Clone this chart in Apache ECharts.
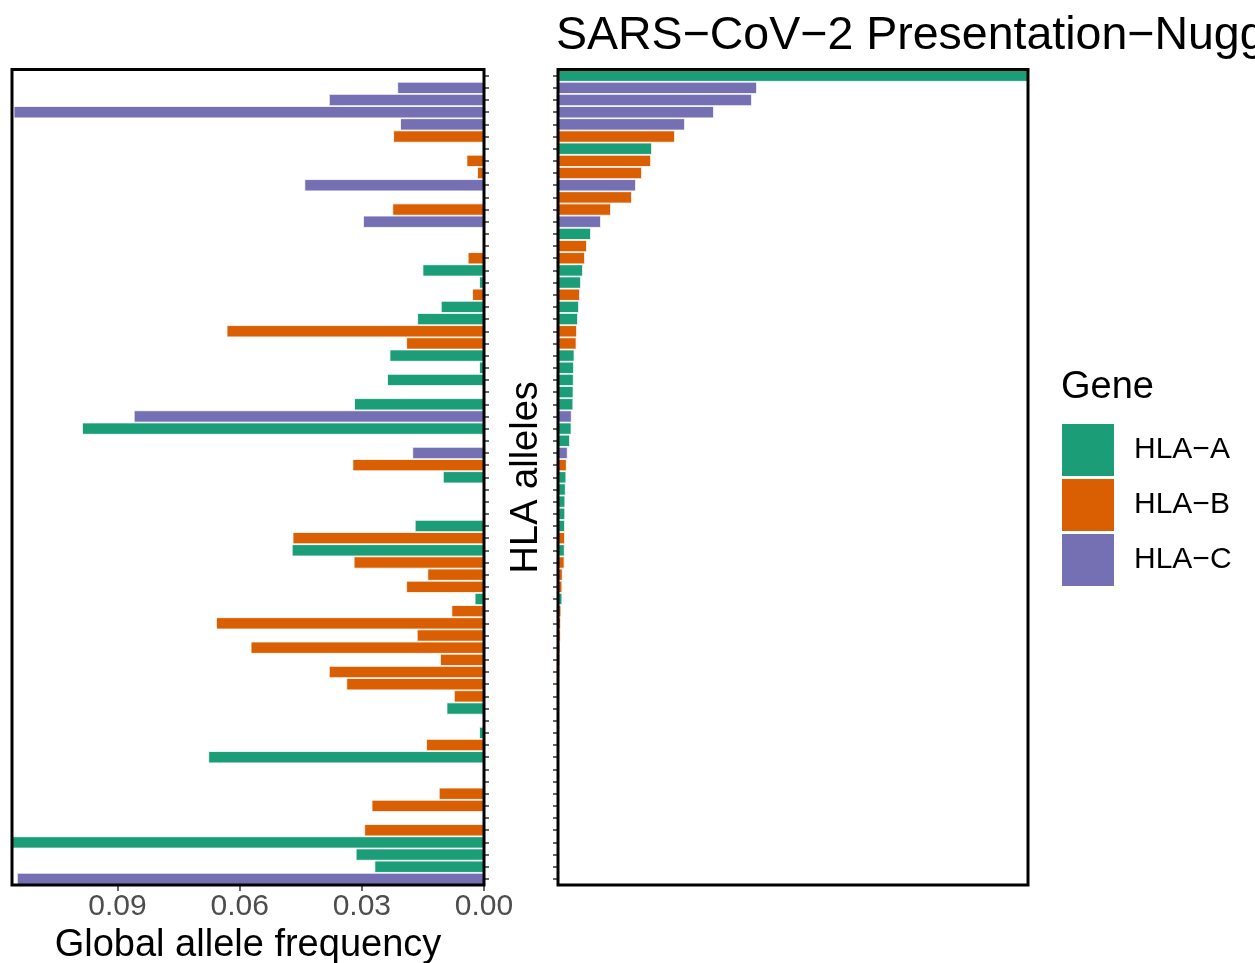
<!DOCTYPE html>
<html>
<head>
<meta charset="utf-8">
<script src="https://cdn.jsdelivr.net/npm/echarts@6/dist/echarts.min.js"></script>
<style>
html,body{margin:0;padding:0;background:#fff;}
#chart{width:1255px;height:963px;}
</style>
</head>
<body>
<div id="chart"></div>
<script>
// ---- data (rows from top to bottom) ----
const alleles = Array.from({length: 67}, (_, i) => 'allele ' + (i + 1));
const genes = [
  'A','C','C','C','C','B','A','B','B','C',
  'B','B','C','A','B','B','A','A','B','A',
  'A','B','B','A','A','A','A','A','C','A',
  'A','C','B','A','A','A','A','A','B','A',
  'B','B','B','A','B','B','B','B','B','B',
  'B','B','A',null,'A','B','A',null,null,'B',
  'B',null,'B','A','A','A','C'
];
const globalFreq = [
  null,0.0213,0.0381,0.1155,0.0206,0.0223,null,0.0043,0.0017,0.0441,
  null,0.0225,0.0297,null,null,0.0040,0.0151,0.0012,0.0029,0.0106,
  0.0164,0.0632,0.0191,0.0232,0.0012,0.0238,null,0.0319,0.0860,0.0987,
  null,0.0176,0.0323,0.0101,null,null,null,0.0170,0.0470,0.0472,
  0.0320,0.0139,0.0191,0.0023,0.0080,0.0658,0.0165,0.0573,0.0108,0.0381,
  0.0338,0.0074,0.0092,null,0.0012,0.0142,0.0677,null,null,0.0111,
  0.0276,null,0.0294,0.1159,0.0315,0.0269,0.1147
];
const presentationScore = [
  470,199,194,156,127,117,94,93,84,78,
  74,53,43,33,29,27,25,23,22,21,
  20,19,18.5,16.5,16,15.7,15.5,15.3,13.7,13.5,
  12,9.7,8.7,8.3,7.7,7.3,7.2,7,7,6.7,
  6.5,4.7,4.3,4.3,3.3,3,2.7,2.3,2.2,2,
  1.7,1.3,0,0,0,0,0,0,0,0,
  0,0,0,0,0,0,0
];
const geneCodes = ['A','B','C'];
const geneNames = ['HLA\u2212A','HLA\u2212B','HLA\u2212C'];
const geneColors = ['#1B9E77','#D95F02','#7570B3'];
const freqTicks = [0, 0.03, 0.06, 0.09];
const freqMax = 0.1159;
const scoreMax = 470;

const FONT = '"Liberation Sans", Arial, Helvetica, sans-serif';

function seriesFor(values, gridIdx) {
  return geneCodes.map((g, k) => ({
    name: geneNames[k],
    type: 'bar',
    z: 2,
    xAxisIndex: gridIdx,
    yAxisIndex: gridIdx,
    barGap: '-100%',
    barCategoryGap: '0%',
    itemStyle: {color: geneColors[k], borderColor: '#ffffff', borderWidth: 0.8},
    data: values.map((v, i) => (genes[i] === g && v != null && v > 0) ? v : '-')
  }));
}

const chart = echarts.init(document.getElementById('chart'), null, {renderer: 'canvas'});
const option = {
  animation: false,
  backgroundColor: '#ffffff',
  textStyle: {fontFamily: FONT},
  title: [
    {text: 'SARS\u2212CoV\u22122 Presentation\u2212Nuggets', left: 556, top: 13, padding: 0,
     textStyle: {fontSize: 46.5, fontWeight: 'normal', color: '#000', fontFamily: FONT}},
    {text: 'Gene', left: 1061, top: 369, padding: 0,
     textStyle: {fontSize: 38, fontWeight: 'normal', color: '#000', fontFamily: FONT}}
  ],
  legend: {
    orient: 'vertical', left: 1062, top: 424, padding: 0,
    itemWidth: 52, itemHeight: 52, itemGap: 3, icon: 'rect',
    selectedMode: false,
    itemStyle: {borderWidth: 0},
    data: geneNames,
    textStyle: {fontSize: 30, color: '#000', fontFamily: FONT, padding: [0, 0, 0, 15]}
  },
  grid: [
    {left: 12, top: 69.6, width: 472, height: 815.4, show: true, z: 6, borderColor: '#000', borderWidth: 3,
     containLabel: false, outerBoundsMode: 'none'},
    {left: 558, top: 69.6, width: 470, height: 815.4, show: true, z: 6, borderColor: '#000', borderWidth: 3,
     containLabel: false, outerBoundsMode: 'none'}
  ],
  xAxis: [
    {
      gridIndex: 0, type: 'value', inverse: true, min: 0, max: freqMax, position: 'bottom',
      axisLine: {show: false}, splitLine: {show: false},
      axisTick: {show: true, customValues: freqTicks, length: 6, lineStyle: {color: '#333', width: 1.5}},
      axisLabel: {customValues: freqTicks, formatter: v => v.toFixed(2), color: '#4D4D4D', fontSize: 30, margin: 7, fontFamily: FONT},
      name: 'Global allele frequency', nameLocation: 'middle', nameGap: 30,
      nameTextStyle: {fontSize: 38, color: '#000', fontFamily: FONT}
    },
    {
      gridIndex: 1, type: 'value', min: 0, max: scoreMax,
      axisLine: {show: false}, splitLine: {show: false}, axisTick: {show: false}, axisLabel: {show: false}
    }
  ],
  yAxis: [
    {
      gridIndex: 0, type: 'category', data: alleles, inverse: true, position: 'right',
      axisLine: {show: false}, axisLabel: {show: false}, splitLine: {show: false},
      axisTick: {show: true, alignWithLabel: true, interval: 0, length: 5, lineStyle: {color: '#333', width: 1.5}}
    },
    {
      gridIndex: 1, type: 'category', data: alleles, inverse: true, position: 'left',
      axisLine: {show: false}, axisLabel: {show: false}, splitLine: {show: false},
      axisTick: {show: true, alignWithLabel: true, interval: 0, length: 5, lineStyle: {color: '#333', width: 1.5}},
      name: 'HLA alleles', nameLocation: 'middle', nameGap: 12,
      nameTextStyle: {fontSize: 38, color: '#000', fontFamily: FONT}
    }
  ],
  series: seriesFor(globalFreq, 0).concat(seriesFor(presentationScore, 1))
};
chart.setOption(option);
</script>
</body>
</html>
